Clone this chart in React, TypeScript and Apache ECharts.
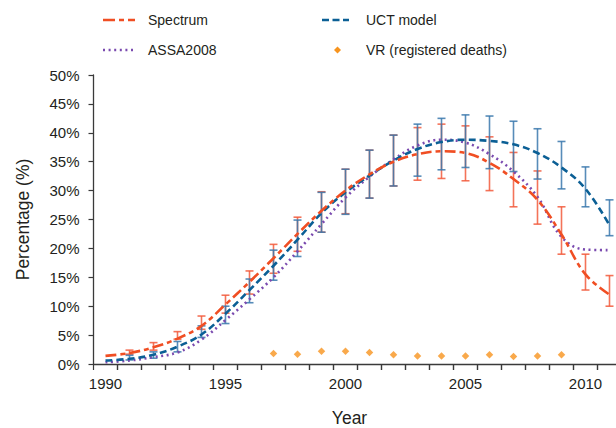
import React, { useEffect, useRef } from 'react';
import * as echarts from 'echarts';

const years = [1990, 1991, 1992, 1993, 1994, 1995, 1996, 1997, 1998, 1999, 2000, 2001, 2002, 2003, 2004, 2005, 2006, 2007, 2008, 2009, 2010, 2011];
const spectrum = [1.4, 1.9, 2.9, 4.4, 6.6, 10.3, 14.2, 18.3, 22.5, 26.5, 30.0, 32.8, 35.0, 36.3, 36.8, 36.5, 34.8, 32.0, 28.4, 22.4, 15.5, 12.0];
const uct = [0.6, 0.9, 1.6, 3.0, 5.1, 8.7, 12.8, 17.0, 21.5, 26.1, 29.7, 32.6, 35.2, 37.2, 38.4, 38.8, 38.6, 38.0, 36.5, 34.0, 30.3, 24.0];
const assa = [0.3, 0.6, 1.2, 2.0, 4.2, 7.6, 11.2, 15.0, 19.5, 24.2, 28.8, 32.4, 35.4, 37.8, 38.8, 38.3, 36.3, 33.3, 28.9, 22.0, 19.8, 19.7];

const vrYears = [1997, 1998, 1999, 2000, 2001, 2002, 2003, 2004, 2005, 2006, 2007, 2008, 2009];
const vrValues = [1.8, 1.7, 2.2, 2.2, 2.0, 1.6, 1.4, 1.4, 1.4, 1.6, 1.3, 1.4, 1.6];

const barYears = [1991, 1992, 1993, 1994, 1995, 1996, 1997, 1998, 1999, 2000, 2001, 2002, 2003, 2004, 2005, 2006, 2007, 2008, 2009, 2010, 2011];
const spectrumLow = [1.7, 2.4, 4.3, 6.0, 8.8, 12.1, 15.7, 19.5, 22.8, 26.0, 28.7, 30.8, 31.8, 32.1, 31.7, 30.0, 27.2, 24.2, 19.0, 12.8, 10.0];
const spectrumHigh = [2.4, 3.7, 5.6, 8.3, 11.9, 16.1, 20.7, 25.4, 29.8, 33.7, 37.0, 39.6, 40.9, 41.5, 41.2, 39.3, 36.6, 33.4, 27.2, 19.0, 15.3];
const uctLow = [0.7, 1.0, 2.1, 4.6, 7.0, 10.6, 14.5, 18.6, 22.8, 25.9, 28.7, 30.8, 32.5, 33.6, 34.0, 33.8, 33.3, 32.0, 30.3, 27.2, 22.2];
const uctHigh = [1.5, 2.1, 3.9, 6.6, 10.0, 14.7, 19.7, 24.9, 29.7, 33.7, 37.0, 39.6, 41.5, 42.5, 43.1, 42.9, 42.0, 40.7, 38.5, 34.1, 28.4];

// x-axis tick marks sit between the years
const tickYears = [1990.5, 1991.5, 1992.5, 1993.5, 1994.5, 1995.5, 1996.5, 1997.5, 1998.5, 1999.5, 2000.5, 2001.5, 2002.5, 2003.5, 2004.5, 2005.5, 2006.5, 2007.5, 2008.5, 2009.5, 2010.5];

const C_SPEC = '#f04e23';
const C_UCT = '#0b5f95';
const C_ASSA = '#7a4aaf';
const C_VR = '#f7941e';
const C_SPEC_BAR = '#f25a3c';
const C_UCT_BAR = '#3a78ad';
const C_AXIS = '#3a3a3a';
const FONT = '"Liberation Sans", Arial, Helvetica, sans-serif';

function errorSeries(name: string, lows: number[], highs: number[], color: string) {
  return {
    type: 'custom',
    name,
    z: 2,
    xAxisIndex: 1,
    data: barYears.map((y, i) => [y, lows[i], highs[i]]),
    encode: { x: 0, y: [1, 2] },
    renderItem: (params: any, api: any) => {
      const lo = api.coord([api.value(0), api.value(1)]);
      const hi = api.coord([api.value(0), api.value(2)]);
      const w = 4;
      const style = { stroke: color, lineWidth: 1.6, opacity: 0.85 };
      return {
        type: 'group',
        children: [
          { type: 'line', shape: { x1: lo[0], y1: lo[1], x2: hi[0], y2: hi[1] }, style },
          { type: 'line', shape: { x1: lo[0] - w, y1: lo[1], x2: lo[0] + w, y2: lo[1] }, style },
          { type: 'line', shape: { x1: hi[0] - w, y1: hi[1], x2: hi[0] + w, y2: hi[1] }, style },
        ],
      };
    },
  };
}

export default function App() {
  const ref = useRef<HTMLDivElement>(null);
  useEffect(() => {
    if (!ref.current) return;
    const chart = echarts.init(ref.current, null, { renderer: 'svg' });
    const legendText = (x: number, y: number, text: string) => ({
      type: 'text', x, y,
      style: { text, fill: '#231f20', font: `14px ${FONT}`, verticalAlign: 'middle', align: 'left' },
    });
    chart.setOption({
      animation: false,
      backgroundColor: '#ffffff',
      grid: { left: 93.5, right: -5.5, top: 75, bottom: 64, containLabel: false, outerBoundsMode: 'none' },
      xAxis: [
        {
          type: 'category',
          data: years.map(String),
          boundaryGap: true,
          position: 'bottom',
          name: 'Year',
          nameLocation: 'middle',
          nameGap: 45,
          nameTextStyle: { fontSize: 17.5, color: '#231f20', fontFamily: FONT, padding: [0, 16, 0, 0] },
          axisLine: { show: true, onZero: false, lineStyle: { color: C_AXIS, width: 1.3 } },
          axisTick: { show: true, inside: false, length: 6, interval: 0, lineStyle: { color: C_AXIS, width: 1.2 } },
          axisLabel: { interval: 4, fontSize: 15, color: '#231f20', fontFamily: FONT, margin: 12 },
          splitLine: { show: false },
        },
        {
          type: 'value',
          min: 1989.5,
          max: 2011.5,
          position: 'bottom',
          show: false,
        },
      ],
      yAxis: {
        type: 'value',
        min: 0,
        max: 50,
        interval: 5,
        name: 'Percentage (%)',
        nameLocation: 'middle',
        nameGap: 62,
        nameRotate: 90,
        nameTextStyle: { fontSize: 17.5, color: '#231f20', fontFamily: FONT },
        axisLine: { show: true, lineStyle: { color: C_AXIS, width: 1.3 } },
        axisTick: { show: true, length: 5, lineStyle: { color: C_AXIS, width: 1.2 } },
        axisLabel: { fontSize: 15, color: '#231f20', fontFamily: FONT, margin: 14, formatter: '{value}%' },
        splitLine: { show: false },
      },
      series: [
        {
          type: 'scatter',
          name: 'x ticks',
          xAxisIndex: 1,
          z: 10,
          clip: false,
          silent: true,
          data: tickYears.map((t) => [t, 0]),
          symbol: 'rect',
          symbolSize: [1.3, 6],
          symbolOffset: [0, 3],
          itemStyle: { color: C_AXIS },
        },
        errorSeries('Spectrum bars', spectrumLow, spectrumHigh, C_SPEC_BAR),
        errorSeries('UCT bars', uctLow, uctHigh, C_UCT_BAR),
        {
          type: 'line', name: 'ASSA2008', z: 3, xAxisIndex: 1,
          data: years.map((y, i) => [y, assa[i]]),
          smooth: 0.4, showSymbol: false,
          lineStyle: { color: C_ASSA, width: 2.6, type: [2, 3.6] },
        },
        {
          type: 'line', name: 'UCT model', z: 4, xAxisIndex: 1,
          data: years.map((y, i) => [y, uct[i]]),
          smooth: 0.4, showSymbol: false,
          lineStyle: { color: C_UCT, width: 2.6, type: [7, 4] },
        },
        {
          type: 'line', name: 'Spectrum', z: 5, xAxisIndex: 1,
          data: years.map((y, i) => [y, spectrum[i]]),
          smooth: 0.4, showSymbol: false,
          lineStyle: { color: C_SPEC, width: 2.6, type: [11, 4, 5, 4] },
        },
        {
          type: 'scatter', name: 'VR (registered deaths)', z: 6, xAxisIndex: 1,
          data: vrYears.map((y, i) => [y, vrValues[i]]),
          symbol: 'diamond', symbolSize: 7.5,
          itemStyle: { color: C_VR },
        },
      ],
      graphic: [
        { type: 'line', shape: { x1: 103, y1: 20, x2: 135, y2: 20 }, style: { stroke: C_SPEC, lineWidth: 2.6, lineDash: [12, 4, 5, 4] } },
        legendText(148, 20, 'Spectrum'),
        { type: 'line', shape: { x1: 322, y1: 20, x2: 349, y2: 20 }, style: { stroke: C_UCT, lineWidth: 2.6, lineDash: [7, 3.5] } },
        legendText(366, 20, 'UCT model'),
        { type: 'line', shape: { x1: 103, y1: 50, x2: 133, y2: 50 }, style: { stroke: C_ASSA, lineWidth: 2.6, lineDash: [2, 3.6] } },
        legendText(148, 50, 'ASSA2008'),
        { type: 'polygon', shape: { points: [[337.5, 46.5], [341, 50], [337.5, 53.5], [334, 50]] }, style: { fill: C_VR } },
        legendText(366, 50, 'VR (registered deaths)'),
      ],
    });
    return () => chart.dispose();
  }, []);
  return <div ref={ref} style={{ position: 'fixed', left: 0, top: 0, width: 616, height: 428 }} />;
}
